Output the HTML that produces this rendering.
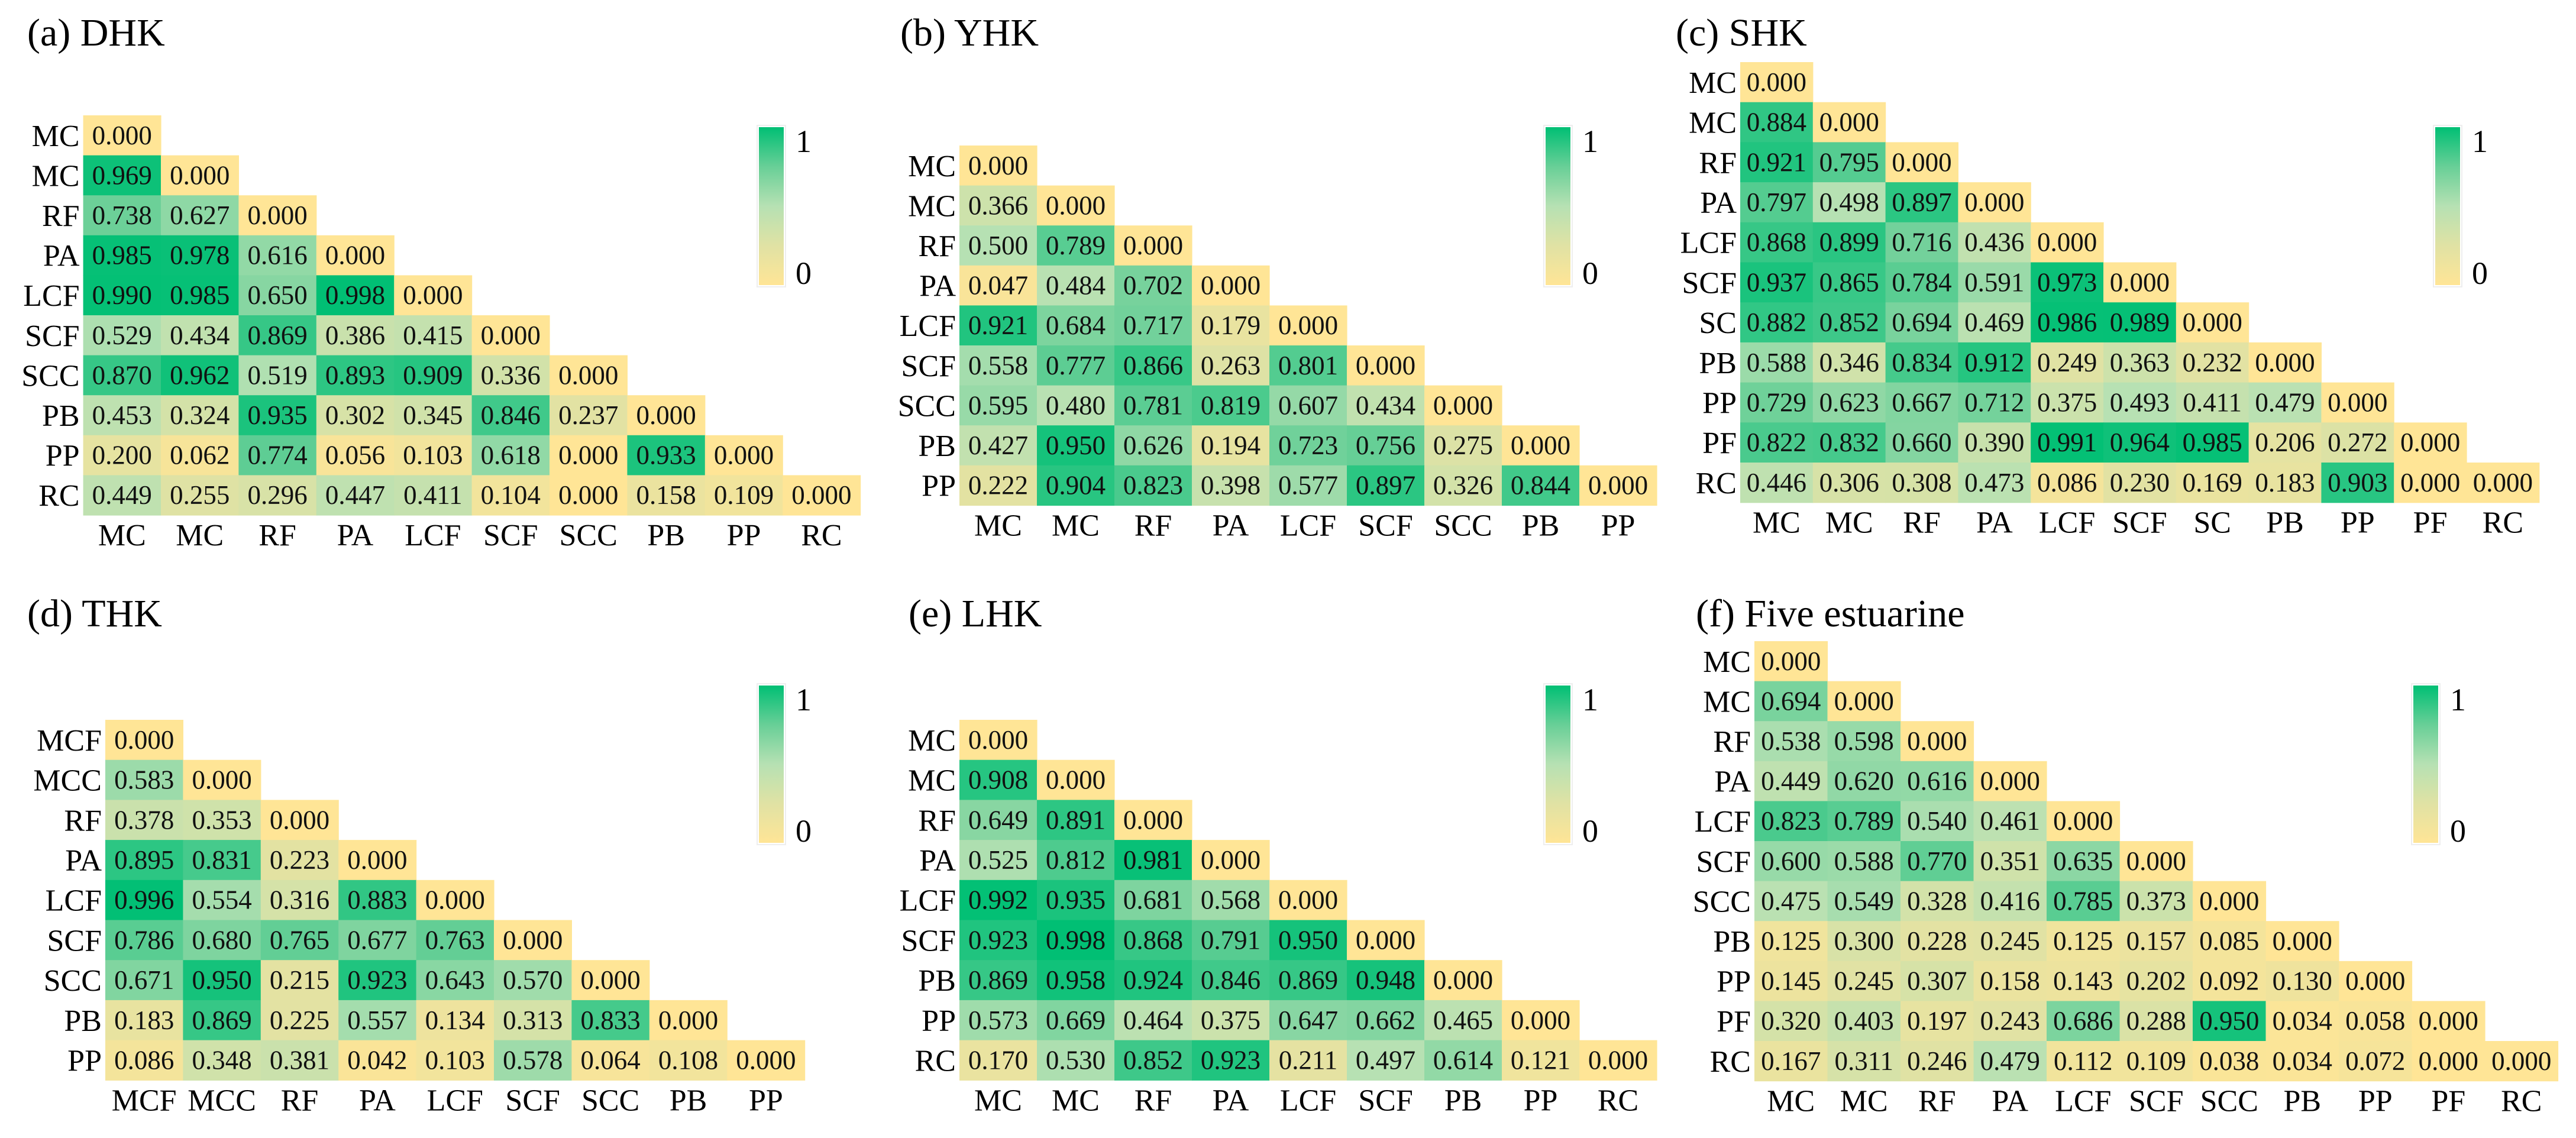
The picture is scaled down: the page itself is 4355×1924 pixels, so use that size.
<!DOCTYPE html>
<html><head><meta charset="utf-8"><style>
html,body{margin:0;padding:0;background:#fff;}
svg{display:block;}
svg text{font-family:"Liberation Serif","DejaVu Serif",serif !important;}
</style></head><body>
<svg id="fig" width="4355" height="1924" viewBox="0 0 4355 1924" xmlns="http://www.w3.org/2000/svg" font-family="Liberation Serif, serif">
<defs>
<linearGradient id="cbgrad" x1="0" y1="1" x2="0" y2="0">
<stop offset="0" stop-color="#ffe596"/>
<stop offset="0.25" stop-color="#e0e2a4"/>
<stop offset="0.5" stop-color="#b6e1b3"/>
<stop offset="0.75" stop-color="#68cf97"/>
<stop offset="1" stop-color="#00bf74"/>
</linearGradient>
</defs>
</svg>
<script>
const labelsA = ["MC","MC","RF","PA","LCF","SCF","SCC","PB","PP","RC"];
const valuesA = [
[0.000],
[0.969,0.000],
[0.738,0.627,0.000],
[0.985,0.978,0.616,0.000],
[0.990,0.985,0.650,0.998,0.000],
[0.529,0.434,0.869,0.386,0.415,0.000],
[0.870,0.962,0.519,0.893,0.909,0.336,0.000],
[0.453,0.324,0.935,0.302,0.345,0.846,0.237,0.000],
[0.200,0.062,0.774,0.056,0.103,0.618,0.000,0.933,0.000],
[0.449,0.255,0.296,0.447,0.411,0.104,0.000,0.158,0.109,0.000]];
const labelsB = ["MC","MC","RF","PA","LCF","SCF","SCC","PB","PP"];
const valuesB = [
[0.000],
[0.366,0.000],
[0.500,0.789,0.000],
[0.047,0.484,0.702,0.000],
[0.921,0.684,0.717,0.179,0.000],
[0.558,0.777,0.866,0.263,0.801,0.000],
[0.595,0.480,0.781,0.819,0.607,0.434,0.000],
[0.427,0.950,0.626,0.194,0.723,0.756,0.275,0.000],
[0.222,0.904,0.823,0.398,0.577,0.897,0.326,0.844,0.000]];
const labelsC = ["MC","MC","RF","PA","LCF","SCF","SC","PB","PP","PF","RC"];
const valuesC = [
[0.000],
[0.884,0.000],
[0.921,0.795,0.000],
[0.797,0.498,0.897,0.000],
[0.868,0.899,0.716,0.436,0.000],
[0.937,0.865,0.784,0.591,0.973,0.000],
[0.882,0.852,0.694,0.469,0.986,0.989,0.000],
[0.588,0.346,0.834,0.912,0.249,0.363,0.232,0.000],
[0.729,0.623,0.667,0.712,0.375,0.493,0.411,0.479,0.000],
[0.822,0.832,0.660,0.390,0.991,0.964,0.985,0.206,0.272,0.000],
[0.446,0.306,0.308,0.473,0.086,0.230,0.169,0.183,0.903,0.000,0.000]];
const labelsD = ["MCF","MCC","RF","PA","LCF","SCF","SCC","PB","PP"];
const valuesD = [
[0.000],
[0.583,0.000],
[0.378,0.353,0.000],
[0.895,0.831,0.223,0.000],
[0.996,0.554,0.316,0.883,0.000],
[0.786,0.680,0.765,0.677,0.763,0.000],
[0.671,0.950,0.215,0.923,0.643,0.570,0.000],
[0.183,0.869,0.225,0.557,0.134,0.313,0.833,0.000],
[0.086,0.348,0.381,0.042,0.103,0.578,0.064,0.108,0.000]];
const labelsE = ["MC","MC","RF","PA","LCF","SCF","PB","PP","RC"];
const valuesE = [
[0.000],
[0.908,0.000],
[0.649,0.891,0.000],
[0.525,0.812,0.981,0.000],
[0.992,0.935,0.681,0.568,0.000],
[0.923,0.998,0.868,0.791,0.950,0.000],
[0.869,0.958,0.924,0.846,0.869,0.948,0.000],
[0.573,0.669,0.464,0.375,0.647,0.662,0.465,0.000],
[0.170,0.530,0.852,0.923,0.211,0.497,0.614,0.121,0.000]];
const labelsF = ["MC","MC","RF","PA","LCF","SCF","SCC","PB","PP","PF","RC"];
const valuesF = [
[0.000],
[0.694,0.000],
[0.538,0.598,0.000],
[0.449,0.620,0.616,0.000],
[0.823,0.789,0.540,0.461,0.000],
[0.600,0.588,0.770,0.351,0.635,0.000],
[0.475,0.549,0.328,0.416,0.785,0.373,0.000],
[0.125,0.300,0.228,0.245,0.125,0.157,0.085,0.000],
[0.145,0.245,0.307,0.158,0.143,0.202,0.092,0.130,0.000],
[0.320,0.403,0.197,0.243,0.686,0.288,0.950,0.034,0.058,0.000],
[0.167,0.311,0.246,0.479,0.112,0.109,0.038,0.034,0.072,0.000,0.000]];
const titles = ["(a) DHK","(b) YHK","(c) SHK","(d) THK","(e) LHK","(f) Five estuarine"];

const NS = "http://www.w3.org/2000/svg";
const FONT = "'Liberation Serif', 'DejaVu Serif', serif";
const svg = document.getElementById("fig");
const stops = [[0,[255,229,150]],[0.25,[224,226,164]],[0.5,[182,225,179]],[0.75,[104,207,151]],[1,[0,191,116]]];
function colorScale(v){
  v = Math.max(0, Math.min(1, v));
  for (let i = 1; i < stops.length; i++) {
    if (v <= stops[i][0]) {
      const a = stops[i-1], b = stops[i];
      const t = (v - a[0]) / (b[0] - a[0]);
      const c = a[1].map((x, k) => Math.round(x + (b[1][k] - x) * t));
      return "rgb(" + c.join(",") + ")";
    }
  }
  return "rgb(0,191,116)";
}
function mk(tag, attrs){
  const el = document.createElementNS(NS, tag);
  for (const k in attrs) el.setAttribute(k, attrs[k]);
  if (tag === "text") el.setAttribute("font-family", FONT);
  return el;
}
const layouts = [
  {key:"a", labels:labelsA, values:valuesA, left:140.6, top:195, cw:131.4, rh:67.6, tx:46, ty:77, cbx:1283, cby:215, cbh:267},
  {key:"b", labels:labelsB, values:valuesB, left:1622, top:246, cw:131, rh:67.6, tx:1522, ty:77, cbx:2613, cby:215, cbh:267},
  {key:"c", labels:labelsC, values:valuesC, left:2942, top:105, cw:122.8, rh:67.7, tx:2833, ty:77, cbx:4117, cby:215, cbh:267},
  {key:"d", labels:labelsD, values:valuesD, left:178, top:1217, cw:131.4, rh:67.7, tx:46, ty:1059, cbx:1283, cby:1159, cbh:266},
  {key:"e", labels:labelsE, values:valuesE, left:1622, top:1217, cw:131, rh:67.7, tx:1536, ty:1059, cbx:2613, cby:1159, cbh:266},
  {key:"f", labels:labelsF, values:valuesF, left:2966, top:1084, cw:123.5, rh:67.6, tx:2867, ty:1059, cbx:4080, cby:1159, cbh:266}
];
layouts.forEach((L, pi) => {
  const g = mk("g", {});
  
  
  svg.appendChild(g);
  const xPos = c => L.left + c * L.cw;
  const yPos = r => L.top + r * L.rh;
  const title = mk("text", {x:L.tx, y:L.ty, "font-size":66, fill:"#000"});
  title.textContent = titles[pi];
  
  
  g.appendChild(title);
  L.values.forEach((row, r) => {
    row.forEach((v, c) => {
      const rect = mk("rect", {x:xPos(c), y:yPos(r), width:L.cw + 0.6, height:L.rh + 0.6, fill:colorScale(v)});
      
      
      g.appendChild(rect);
      const t = mk("text", {x:xPos(c) + L.cw / 2, y:yPos(r) + L.rh / 2 + 15, "font-size":45, "text-anchor":"middle", fill:"#111"});
      t.textContent = v.toFixed(3);
      
      
      g.appendChild(t);
    });
  });
  const n = L.labels.length;
  L.labels.forEach((lab, i) => {
    const rl = mk("text", {x:L.left - 6, y:yPos(i) + L.rh / 2 + 18, "font-size":52, "text-anchor":"end", fill:"#000"});
    rl.textContent = lab;
    
    
    g.appendChild(rl);
    const cl = mk("text", {x:xPos(i) + L.cw / 2, y:yPos(n) + 51, "font-size":52, "text-anchor":"middle", fill:"#000"});
    cl.textContent = lab;
    
    
    g.appendChild(cl);
  });
  const border = mk("rect", {x:L.cbx - 3, y:L.cby - 3, width:48, height:L.cbh + 6, fill:"#fff", stroke:"#eeeeee", "stroke-width":2});
  
  
  g.appendChild(border);
  const cb = mk("rect", {x:L.cbx, y:L.cby, width:42, height:L.cbh, fill:"url(#cbgrad)"});
  
  
  g.appendChild(cb);
  const t1 = mk("text", {x:L.cbx + 62, y:L.cby + 42, "font-size":54, fill:"#000"});
  t1.textContent = "1";
  
  
  g.appendChild(t1);
  const t0 = mk("text", {x:L.cbx + 62, y:L.cby + L.cbh - 2, "font-size":54, fill:"#000"});
  t0.textContent = "0";
  
  
  g.appendChild(t0);
});
</script>
</body></html>
